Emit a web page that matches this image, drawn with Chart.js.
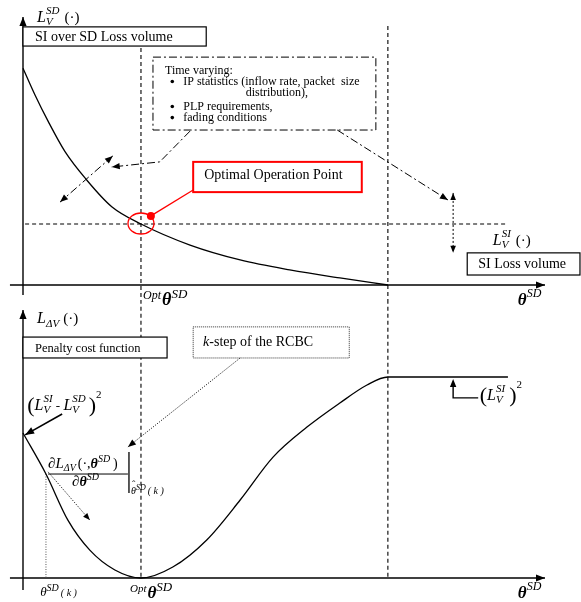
<!DOCTYPE html>
<html>
<head>
<meta charset="utf-8">
<script src="https://cdn.jsdelivr.net/npm/chart.js@4.4.0/dist/chart.umd.min.js"></script>
<style>
  html, body { margin: 0; padding: 0; background: #fff; }
  #wrap { position: relative; width: 581px; height: 602px; }
  canvas { position: absolute; left: 0; }
  #topChart { top: 0; }
  #bottomChart { top: 300px; }
</style>
</head>
<body>
<div id="wrap">
  <canvas id="topChart" width="581" height="312"></canvas>
  <canvas id="bottomChart" width="581" height="302"></canvas>
</div>
<script>
// theta^SD axis uses the same units in both panels (0 = origin, 100 = arrow tip)
const OPT_THETA = 22.6
const KNEE_THETA = 69.9
const THETA_K = 4.4
const SI_LEVEL = 22.6      // L_V^SI level in the top panel
const SI_SQ_LEVEL = 75.0   // (L_V^SI)^2 level in the bottom panel

// top panel: SI over SD loss volume
const lossTheta = [0, 2.3, 4.85, 8.05, 12.2, 17.0, 22.6, 32.0, 41.6, 51.1, 60.7, 69.9]
const lossValue = [80.3, 70.4, 60.5, 49.4, 38.9, 29.0, 22.6, 14.8, 9.3, 5.6, 2.6, 0]

// bottom panel: penalty cost function
const penaltyTheta = [0, 4.4, 8.6, 12.8, 17.6, 22.6, 28.7, 35.2, 41.6, 47.9, 54.4, 60.7, 65.9, 69.9, 92.9]
const penaltyValue = [54.1, 38.8, 21.6, 10.4, 3.0, 0, 4.1, 14.2, 29.1, 45.1, 56.3, 65.3, 72.0, 75.0, 75.0]

const SERIF = '"Liberation Serif", "Times New Roman", serif'
const DASHED = [4, 3]
const DASHDOT = [8, 3, 2, 3]
const DOTTED = [1, 1.5]

const font = (size, italic, bold) =>
    (italic ? 'italic ' : '') + (bold ? 'bold ' : '') + size + 'px ' + SERIF

function line(ctx, pts, dash, width, color) {
    ctx.save()
    ctx.beginPath()
    ctx.setLineDash(dash || [])
    ctx.lineWidth = width || 1
    ctx.strokeStyle = color || '#000'
    pts.forEach((p, i) => i ? ctx.lineTo(p[0], p[1]) : ctx.moveTo(p[0], p[1]))
    ctx.stroke()
    ctx.restore()
}

function head(ctx, from, to, size, color) {
    const a = Math.atan2(to[1] - from[1], to[0] - from[0])
    const s = size || 8
    const c = Math.cos(a), sn = Math.sin(a)
    ctx.save()
    ctx.fillStyle = color || '#000'
    ctx.beginPath()
    ctx.moveTo(to[0], to[1])
    ctx.lineTo(to[0] - s * c + s * 0.4 * sn, to[1] - s * sn - s * 0.4 * c)
    ctx.lineTo(to[0] - s * c - s * 0.4 * sn, to[1] - s * sn + s * 0.4 * c)
    ctx.closePath()
    ctx.fill()
    ctx.restore()
}

function arrow(ctx, pts, dash, width, size, both) {
    line(ctx, pts, dash, width)
    const n = pts.length
    head(ctx, pts[n - 2], pts[n - 1], size)
    if (both) head(ctx, pts[1], pts[0], size)
}

function text(ctx, s, x, y, size, o) {
    o = o || {}
    ctx.save()
    ctx.fillStyle = o.color || '#000'
    ctx.font = font(size, o.i, o.b)
    ctx.textAlign = o.align || 'left'
    ctx.textBaseline = 'alphabetic'
    ctx.fillText(s, x, y)
    ctx.restore()
}

// parts: {t, s, i, b, dy} | {sup, sub, s, i, up, down} | {gap}
function math(ctx, x, y, parts) {
    ctx.save()
    ctx.fillStyle = '#000'
    ctx.textBaseline = 'alphabetic'
    for (const p of parts) {
        if (p.gap) { x += p.gap; continue }
        ctx.font = font(p.s || 15, p.i, p.b)
        if (p.t !== undefined) {
            ctx.fillText(p.t, x, y + (p.dy || 0))
            x += ctx.measureText(p.t).width
        } else {
            let w = 0
            if (p.sup) { ctx.fillText(p.sup, x, y - (p.up ?? 7)); w = ctx.measureText(p.sup).width }
            if (p.sub) { ctx.fillText(p.sub, x, y + (p.down ?? 3)); w = Math.max(w, ctx.measureText(p.sub).width) }
            x += w
        }
    }
    ctx.restore()
    return x
}

function box(ctx, X, Y, b, o) {
    o = o || {}
    const x0 = X(b[0]), y0 = Y(b[1]), x1 = X(b[2]), y1 = Y(b[3])
    ctx.save()
    ctx.fillStyle = '#fff'
    ctx.fillRect(x0, y0, x1 - x0, y1 - y0)
    ctx.setLineDash(o.dash || [])
    ctx.lineWidth = o.width || 1.2
    ctx.strokeStyle = o.color || '#000'
    ctx.strokeRect(x0, y0, x1 - x0, y1 - y0)
    ctx.restore()
}

function axes(ctx, X, Y, yLow, yTop) {
    line(ctx, [[X(0), Y(yLow)], [X(0), Y(yTop)]], [], 1.4)
    head(ctx, [X(0), Y(yTop - 5)], [X(0), Y(yTop)], 9)
    line(ctx, [[X(-2.5), Y(0)], [X(100), Y(0)]], [], 1.4)
    head(ctx, [X(95), Y(0)], [X(100), Y(0)], 9)
}

const thetaLabel = (ctx, x, y) =>
    math(ctx, x, y, [{ t: 'θ', s: 17, i: true, b: true }, { sup: 'SD', s: 12, i: true, up: 8 }])

const optLabel = (ctx, x, y, big) =>
    math(ctx, x, y, [{ t: 'Opt', s: big ? 12 : 11, i: true, dy: -6 }, { gap: 1 },
        { t: 'θ', s: big ? 18 : 17, i: true, b: true }, { sup: 'SD', s: big ? 13 : 13, i: true, up: 7 }])

const topDecor = {
    id: 'topDecor',
    beforeDatasetsDraw(chart) {
        const { ctx, scales: { x, y } } = chart
        const X = v => x.getPixelForValue(v), Y = v => y.getPixelForValue(v)
        axes(ctx, X, Y, -3.7, 99.3)
        line(ctx, [[X(OPT_THETA), Y(87.8)], [X(OPT_THETA), Y(-5.6)]], DASHED, 1.1)
        line(ctx, [[X(KNEE_THETA), Y(95.9)], [X(KNEE_THETA), Y(-5.6)]], DASHED, 1.1)
        line(ctx, [[X(0.4), Y(SI_LEVEL)], [X(92.9), Y(SI_LEVEL)]], DASHED, 1.1)
    },
    afterDatasetsDraw(chart) {
        const { ctx, scales: { x, y } } = chart
        const X = v => x.getPixelForValue(v), Y = v => y.getPixelForValue(v)

        math(ctx, X(2.7), Y(97.4), [{ t: 'L', s: 16, i: true }, { sup: 'SD', sub: 'V', s: 11, i: true, up: 8, down: 3 },
            { gap: 5 }, { t: '(·)', s: 15 }])
        box(ctx, X, Y, [0, 95.6, 35.1, 88.5])
        text(ctx, 'SI over SD Loss volume', X(2.3), Y(90.4), 14)

        // time varying box
        box(ctx, X, Y, [24.9, 84.4, 67.6, 57.4], { dash: DASHDOT, width: 1 })
        text(ctx, 'Time varying:', X(27.2), Y(78.1), 12)
        text(ctx, 'IP statistics (inflow rate, packet  size', X(30.7), Y(74.1), 12)
        text(ctx, 'distribution),', X(54.6), Y(70.0), 12, { align: 'right' })
        text(ctx, 'PLP requirements,', X(30.7), Y(64.8), 12)
        text(ctx, 'fading conditions', X(30.7), Y(60.7), 12)
        ctx.save()
        ctx.fillStyle = '#000'
        for (const b of [74.1, 64.8, 60.7]) {
            ctx.beginPath()
            ctx.arc(X(28.6), Y(b) - 3.5, 1.8, 0, Math.PI * 2)
            ctx.fill()
        }
        ctx.restore()

        arrow(ctx, [[X(32.0), Y(57.0)], [X(26.2), Y(45.6)], [X(17.0), Y(43.7)]], DASHDOT, 1, 8)
        arrow(ctx, [[X(17.2), Y(47.8)], [X(7.1), Y(30.7)]], DASHDOT, 1, 8, true)
        arrow(ctx, [[X(60.2), Y(57.4)], [X(81.4), Y(31.5)]], DASHDOT, 1, 8)
        arrow(ctx, [[X(82.4), Y(34.1)], [X(82.4), Y(11.9)]], [2, 2], 1, 7, true)

        // optimal operation point
        line(ctx, [[X(32.6), Y(35.2)], [X(24.5), Y(25.6)]], [], 1.3, '#ff0000')
        ctx.save()
        ctx.fillStyle = '#ff0000'
        ctx.beginPath()
        ctx.arc(X(24.5), Y(25.6), 4, 0, Math.PI * 2)
        ctx.fill()
        ctx.strokeStyle = '#ff0000'
        ctx.lineWidth = 1.3
        ctx.beginPath()
        ctx.ellipse(X(OPT_THETA), Y(SI_LEVEL) - 0.5, 13, 10.5, 0, 0, Math.PI * 2)
        ctx.stroke()
        ctx.restore()
        box(ctx, X, Y, [32.6, 45.6, 64.9, 34.4], { color: '#ff0000', width: 2 })
        text(ctx, 'Optimal Operation Point', X(34.7), Y(39.3), 14)

        // SI loss volume
        math(ctx, X(90.0), Y(14.8), [{ t: 'L', s: 16, i: true }, { sup: 'SI', sub: 'V', s: 11, i: true, up: 8, down: 3 },
            { gap: 5 }, { t: '(·)', s: 15 }])
        box(ctx, X, Y, [85.1, 11.9, 106.7, 3.7])
        text(ctx, 'SI Loss volume', X(87.2), Y(6.3), 14)

        optLabel(ctx, X(23.0), Y(-7.4), true)
        thetaLabel(ctx, X(94.8), Y(-7.4))
    }
}

const bottomDecor = {
    id: 'bottomDecor',
    beforeDatasetsDraw(chart) {
        const { ctx, scales: { x, y } } = chart
        const X = v => x.getPixelForValue(v), Y = v => y.getPixelForValue(v)
        axes(ctx, X, Y, -4.5, 100)
        line(ctx, [[X(OPT_THETA), Y(103.8)], [X(OPT_THETA), Y(0)]], DASHED, 1.1)
        line(ctx, [[X(KNEE_THETA), Y(103.8)], [X(KNEE_THETA), Y(0)]], DASHED, 1.1)
        line(ctx, [[X(THETA_K), Y(38.8)], [X(THETA_K), Y(0)]], DOTTED, 1, '#555')
    },
    afterDatasetsDraw(chart) {
        const { ctx, scales: { x, y } } = chart
        const X = v => x.getPixelForValue(v), Y = v => y.getPixelForValue(v)

        math(ctx, X(2.7), Y(95.1), [{ t: 'L', s: 16, i: true }, { sub: 'ΔV', s: 11, i: true, down: 4 },
            { gap: 4 }, { t: '(·)', s: 15 }])
        box(ctx, X, Y, [0, 89.9, 27.6, 82.1])
        text(ctx, 'Penalty cost function', X(2.3), Y(84.3), 12.5)

        box(ctx, X, Y, [32.6, 93.7, 62.5, 82.1], { dash: [1, 1], width: 1, color: '#333' })
        math(ctx, X(34.5), Y(86.6), [{ t: 'k', s: 14, i: true }, { t: '-step of the RCBC', s: 14 }])
        arrow(ctx, [[X(41.6), Y(82.1)], [X(20.1), Y(48.9)]], DOTTED, 1, 8)

        math(ctx, X(0.8), Y(62.7), [{ t: '(', s: 22, dy: 2 }, { t: 'L', s: 16, i: true },
            { sup: 'SI', sub: 'V', s: 11, i: true, up: 8, down: 3 }, { t: ' - ', s: 13 }, { t: 'L', s: 16, i: true },
            { sup: 'SD', sub: 'V', s: 11, i: true, up: 8, down: 3 }, { gap: 3 }, { t: ')', s: 22, dy: 2 },
            { t: '2', s: 11, dy: -12 }])
        arrow(ctx, [[X(7.5), Y(61.2)], [X(0.4), Y(53.4)]], [], 1.6, 9)

        math(ctx, X(87.5), Y(66.4), [{ t: '(', s: 22, dy: 2 }, { t: 'L', s: 16, i: true },
            { sup: 'SI', sub: 'V', s: 11, i: true, up: 8, down: 3 }, { gap: 4 }, { t: ')', s: 22, dy: 2 },
            { t: '2', s: 11, dy: -12 }])
        line(ctx, [[X(87.2), Y(67.2)], [X(82.4), Y(67.2)], [X(82.4), Y(72.5)]], [], 1.4)
        head(ctx, [X(82.4), Y(70)], [X(82.4), Y(74.3)], 8)

        // gradient at theta(k)
        math(ctx, X(4.8), Y(41.0), [{ t: '∂', s: 15, i: true }, { t: 'L', s: 15, i: true },
            { sub: 'ΔV', s: 10, i: true, down: 3 }, { gap: 2 }, { t: '(·,', s: 14 }, { t: 'θ', s: 14, i: true, b: true },
            { sup: 'SD', s: 10, i: true, up: 6 }, { gap: 3 }, { t: ')', s: 14 }])
        line(ctx, [[X(4.8), Y(38.8)], [X(20.1), Y(38.8)]], [], 1)
        math(ctx, X(9.4), Y(34.3), [{ t: '∂', s: 15, i: true }, { t: 'θ', s: 14, i: true, b: true },
            { sup: 'SD', s: 10, i: true, up: 6 }])
        line(ctx, [[X(20.3), Y(47.0)], [X(20.3), Y(31.7)]], [], 1.3)
        math(ctx, X(20.7), Y(31.3), [{ t: 'θ', s: 10, i: true }, { sup: 'SD', s: 8, i: true, up: 4 }, { gap: 2 },
            { t: '( k )', s: 10, i: true }])
        text(ctx, 'ˆ', X(20.7) + 1, Y(31.3) - 6, 10)
        arrow(ctx, [[X(4.8), Y(39.6)], [X(12.8), Y(21.6)]], DOTTED, 1, 7)

        math(ctx, X(3.3), Y(-6.7), [{ t: 'θ', s: 13, i: true }, { sup: 'SD', s: 10, i: true, up: 5 }, { gap: 2 },
            { t: '( k )', s: 10, i: true }])
        optLabel(ctx, X(20.5), Y(-7.5), false)
        thetaLabel(ctx, X(94.8), Y(-7.5))
    }
}

function makeChart(id, xs, ys, padding, decor) {
    return new Chart(document.getElementById(id), {
        type: 'line',
        data: {
            datasets: [{
                data: xs.map((v, i) => ({ x: v, y: ys[i] })),
                borderColor: '#000',
                borderWidth: 1.3,
                pointRadius: 0,
                fill: false,
                cubicInterpolationMode: 'monotone',
                clip: false,
            }]
        },
        options: {
            responsive: false,
            animation: false,
            devicePixelRatio: 1,
            events: [],
            layout: { padding },
            plugins: { legend: { display: false }, tooltip: { enabled: false } },
            scales: {
                x: { type: 'linear', min: 0, max: 100, display: false },
                y: { min: 0, max: 100, display: false },
            },
        },
        plugins: [decor],
    })
}

makeChart('topChart', lossTheta, lossValue, { left: 23, right: 36, top: 15, bottom: 27 }, topDecor)
makeChart('bottomChart', penaltyTheta, penaltyValue, { left: 23, right: 36, top: 10, bottom: 24 }, bottomDecor)
</script>
</body>
</html>
